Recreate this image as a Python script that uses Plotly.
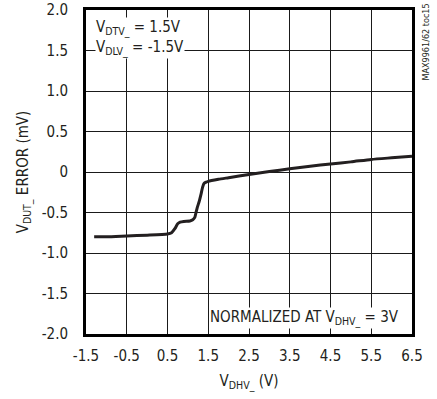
import plotly.graph_objects as go

# Data
v_dhv = [-1.3, -1.0, -0.5, 0.0, 0.5, 0.6, 0.68, 0.75, 0.81, 0.9, 1.05, 1.12, 1.17, 1.2, 1.23,
         1.28, 1.32, 1.36, 1.4, 1.45, 1.5, 1.75, 2.0, 2.5, 3.0, 3.5, 4.0, 4.5, 5.0, 5.5, 6.0, 6.5]
v_err = [-0.80, -0.80, -0.79, -0.78, -0.765, -0.75, -0.70, -0.64, -0.62, -0.61, -0.605, -0.59,
         -0.56, -0.50, -0.44, -0.36, -0.28, -0.19, -0.14, -0.125, -0.115, -0.09, -0.07, -0.03,
         0.005, 0.04, 0.07, 0.10, 0.125, 0.155, 0.175, 0.195]

x_ticks = [-1.5, -0.5, 0.5, 1.5, 2.5, 3.5, 4.5, 5.5, 6.5]
x_ticktext = ["-1.5", "-0.5", "0.5", "1.5", "2.5", "3.5", "4.5", "5.5", "6.5"]
y_ticks = [-2.0, -1.5, -1.0, -0.5, 0, 0.5, 1.0, 1.5, 2.0]
y_ticktext = ["-2.0", "-1.5", "-1.0", "-0.5", "0", "0.5", "1.0", "1.5", "2.0"]

FONT = "Liberation Sans Narrow, Arial Narrow, DejaVu Sans Condensed, sans-serif"
TXT = "#231f20"

fig = go.Figure()
fig.add_trace(go.Scatter(x=v_dhv, y=v_err, mode="lines",
                         line=dict(color="#231f20", width=3, shape="spline", smoothing=0.6),
                         showlegend=False, hoverinfo="skip"))

axis_common = dict(showline=True, mirror=True, linecolor="#000000", linewidth=3,
                   showgrid=True, gridcolor="#1a1a1a", gridwidth=1.3, automargin=False,
                   ticklabeloverflow="allow",
                   zeroline=False, ticks="", tickfont=dict(family=FONT, size=15, color=TXT))

fig.update_xaxes(range=[-1.5, 6.5], tickvals=x_ticks, ticktext=x_ticktext, ticklabelstandoff=6,
                 title=dict(text="V<sub>DHV_</sub> (V)", font=dict(family=FONT, size=15, color=TXT), standoff=12),
                 **axis_common)
fig.update_yaxes(range=[-2.0, 2.0], tickvals=y_ticks, ticktext=y_ticktext, ticklabelstandoff=12,
                 title=dict(text="V<sub>DUT_</sub> ERROR (mV)", font=dict(family=FONT, size=15, color=TXT), standoff=10),
                 **axis_common)

fig.add_annotation(x=0, y=1, xref="paper", yref="paper", xanchor="left", yanchor="top",
                   xshift=9, yshift=-7,
                   text="V<sub>DTV_</sub> = 1.5V<br>V<sub>DLV_</sub> = -1.5V",
                   showarrow=False, align="left", bgcolor="white", borderpad=0,
                   font=dict(family=FONT, size=15, color=TXT))
fig.add_annotation(x=1, y=0, xref="paper", yref="paper", xanchor="right", yanchor="bottom",
                   xshift=-12, yshift=5,
                   text="NORMALIZED AT V<sub>DHV_</sub> = 3V",
                   showarrow=False, align="left", bgcolor="white", borderpad=0,
                   font=dict(family=FONT, size=15, color=TXT))
fig.add_annotation(x=1, y=1, xref="paper", yref="paper", xanchor="left", yanchor="top",
                   xshift=6, yshift=8, textangle=-90,
                   text="MAX9961/62 toc15", showarrow=False,
                   font=dict(family=FONT, size=9, color=TXT))

fig.update_layout(width=437, height=399, margin=dict(l=86, r=25, t=10, b=65),
                  paper_bgcolor="white", plot_bgcolor="white")

fig.write_html("out.html")
